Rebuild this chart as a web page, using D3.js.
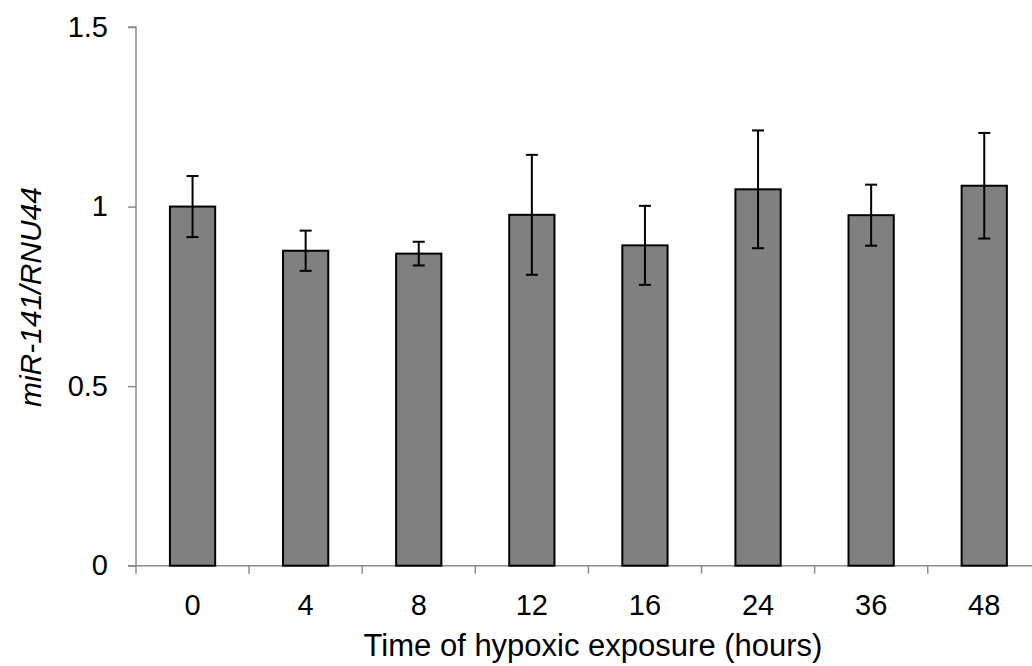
<!DOCTYPE html>
<html>
<head>
<meta charset="utf-8">
<script src="https://cdn.jsdelivr.net/npm/d3@7"></script>
<style>
  body { margin: 0; background: #fff; }
  svg { display: block; font-family: "Liberation Sans", Arial, sans-serif; }
</style>
</head>
<body>
<svg class="chart" width="1032" height="666"></svg>
<script>
const hours = ["0", "4", "8", "12", "16", "24", "36", "48"];
const means = [1.0, 0.877, 0.869, 0.977, 0.892, 1.048, 0.976, 1.058];
const errors = [0.085, 0.056, 0.033, 0.167, 0.110, 0.164, 0.085, 0.147];
const yTicks = [0, 0.5, 1, 1.5];

const svgWidth = 1032;
const svgHeight = 666;

const margin = {top: 27, left: 136, bottom: 100};
const plotBottom = 565.7;
const step = 113.1;

const x = d3.scaleBand()
  .domain(hours)
  .range([margin.left, margin.left + step * hours.length])
  .paddingInner(0.6)
  .paddingOuter(0.3);

const y = d3.scaleLinear()
  .domain([0, 1.5])
  .range([plotBottom, margin.top]);

const svg = d3.select('svg.chart');
const axisColor = '#8c8c8c';

// y axis
const yAxis = svg.append('g')
  .attr('transform', `translate(${margin.left}, 0)`)
  .call(d3.axisLeft(y).tickValues(yTicks).tickSize(8).tickPadding(20)
    .tickFormat(d => d === 0 ? "0" : d3.format("")(d)));
yAxis.select('.domain').attr('stroke', axisColor).attr('stroke-width', 1.5)
  .attr('d', `M-8,${y(1.5)}H0V${y(0)}`);
yAxis.selectAll('.tick line').attr('stroke', axisColor).attr('stroke-width', 1.5);
yAxis.selectAll('.tick text').attr('font-size', '29px').attr('fill', '#000')
  .attr('font-family', '"Liberation Sans", Arial, sans-serif');

// x axis: line plus ticks at band boundaries
const xAxisG = svg.append('g');
xAxisG.append('line')
  .attr('x1', margin.left - 8).attr('x2', margin.left + step * hours.length)
  .attr('y1', y(0)).attr('y2', y(0))
  .attr('stroke', axisColor).attr('stroke-width', 1.5);
const bounds = d3.range(hours.length + 1).map(i => margin.left + i * x.step());
xAxisG.selectAll('line.xtick')
  .data(bounds)
  .enter()
  .append('line')
  .attr('class', 'xtick')
  .attr('x1', d => d).attr('x2', d => d)
  .attr('y1', y(0)).attr('y2', y(0) + 8)
  .attr('stroke', axisColor).attr('stroke-width', 1.5);
xAxisG.selectAll('text.xlabel')
  .data(hours)
  .enter()
  .append('text')
  .attr('class', 'xlabel')
  .attr('x', d => x(d) + x.bandwidth() / 2)
  .attr('y', 615)
  .attr('text-anchor', 'middle')
  .attr('font-size', '29px')
  .text(d => d);

// bars
const bars = svg.selectAll('rect.bar')
  .data(hours)
  .enter()
  .append('rect')
  .attr('class', 'bar')
  .attr('x', d => x(d))
  .attr('y', (d, i) => y(means[i]))
  .attr('width', x.bandwidth())
  .attr('height', (d, i) => y(0) - y(means[i]))
  .attr('fill', '#808080')
  .attr('stroke', '#000')
  .attr('stroke-width', 2);

// error bars
const errG = svg.selectAll('g.err')
  .data(hours)
  .enter()
  .append('g')
  .attr('class', 'err')
  .attr('transform', d => `translate(${x(d) + x.bandwidth() / 2}, 0)`);
errG.append('line')
  .attr('x1', 0).attr('x2', 0)
  .attr('y1', (d, i) => y(means[i] + errors[i]))
  .attr('y2', (d, i) => y(means[i] - errors[i]))
  .attr('stroke', '#000').attr('stroke-width', 2);
errG.selectAll('line.cap')
  .data((d, i) => [means[i] + errors[i], means[i] - errors[i]])
  .enter()
  .append('line')
  .attr('class', 'cap')
  .attr('x1', -6).attr('x2', 6)
  .attr('y1', d => y(d)).attr('y2', d => y(d))
  .attr('stroke', '#000').attr('stroke-width', 2);

// axis titles
svg.append('text')
  .attr('x', 593)
  .attr('y', 656)
  .attr('text-anchor', 'middle')
  .attr('font-size', '31px')
  .text('Time of hypoxic exposure (hours)');

svg.append('text')
  .attr('transform', `translate(41, 297) rotate(-90)`)
  .attr('text-anchor', 'middle')
  .attr('font-size', '30px')
  .attr('font-style', 'italic')
  .text('miR-141/RNU44');
</script>
</body>
</html>
